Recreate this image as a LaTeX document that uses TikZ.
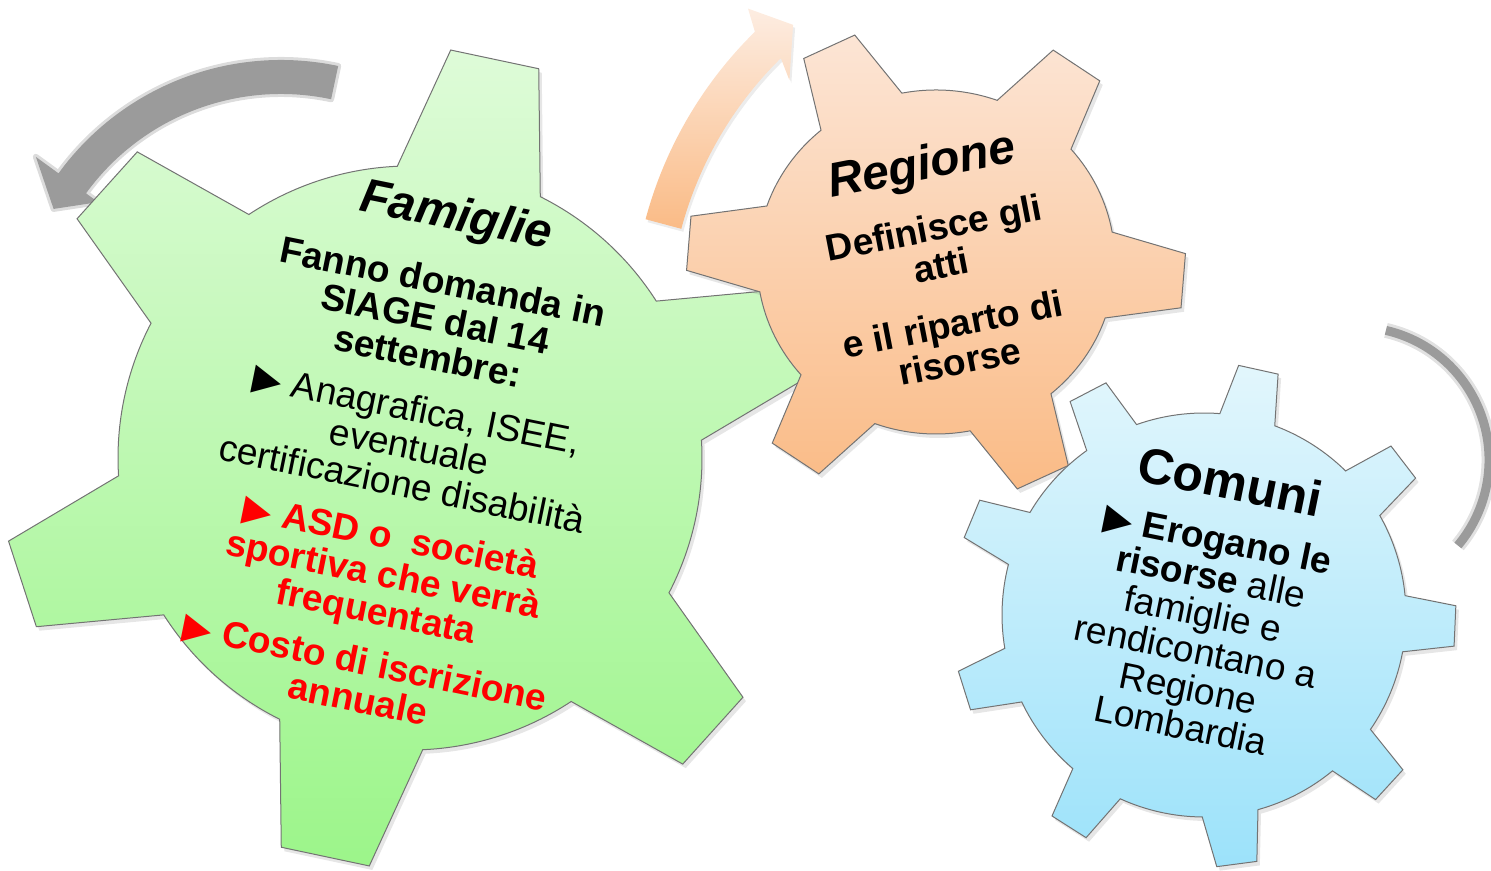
\documentclass[tikz,border=0pt]{standalone}
\usepackage{fontspec}
\setmainfont{Liberation Sans}
\newfontfamily\symfont{DejaVu Sans}
\usetikzlibrary{shadows}
\definecolor{famtop}{RGB}{222,251,216}
\definecolor{fambot}{RGB}{156,245,138}
\definecolor{regtop}{RGB}{252,229,213}
\definecolor{regbot}{RGB}{250,187,134}
\definecolor{comtop}{RGB}{226,246,252}
\definecolor{combot}{RGB}{156,226,250}
\definecolor{arrowgray}{RGB}{155,155,155}
\definecolor{famred}{RGB}{255,0,0}
\newcommand{\tri}{{\symfont ▶}}
% style, teeth, offset, body radius, tip radius, half base angle, half tip angle
\newcommand{\gear}[7]{\path[#1] (#3-#6:#4) \foreach \k [evaluate=\k as \ang using #3+(\k-1)*360/#2] in {1,...,#2} {
  -- (\ang-#6:#4) -- (\ang-#7:#5) -- (\ang+#7:#5) -- (\ang+#6:#4)
  arc[start angle=\ang+#6, end angle=\ang+360/#2-#6, radius=#4]} -- cycle;}

\begin{document}
\begin{tikzpicture}[x=0.5pt, y=0.5pt,
  gearline/.style={draw=black!55, line width=0.5pt, drop shadow={opacity=.2, shadow xshift=1.5pt, shadow yshift=-2pt}},
  famgear/.style={gearline, top color=famtop, bottom color=fambot},
  reggear/.style={gearline, top color=regtop, bottom color=regbot},
  comgear/.style={gearline, top color=comtop, bottom color=combot},
  greyarrow/.style={fill=arrowgray, draw=arrowgray, draw opacity=.35, line width=3pt, line join=round},
  regarrow/.style={top color=regtop!70!white, bottom color=regbot, drop shadow={opacity=.15, shadow xshift=1pt, shadow yshift=-1.5pt}},
  greyline/.style={draw=arrowgray, line width=4.5pt, preaction={draw=arrowgray, draw opacity=.3, line width=7.5pt}},
  geartext/.style={align=center, font=\fontsize{18.6}{19}\selectfont\bfseries, inner sep=0pt}]
  \useasboundingbox (0,0) rectangle (1491,871);

  % arrows round the gears
  \begin{scope}[shift={(281,536)}]
    \path[greyarrow] (78:275) arc[start angle=78, end angle=144, radius=275] -- (144:303) -- (151:260)
      -- (144:226) -- (144:241) arc[start angle=144, end angle=78, radius=241] -- cycle;
  \end{scope}
  \begin{scope}[shift={(1044,545)}]
    \path[regarrow] (165:412.5) arc[start angle=165, end angle=134.5, radius=412.5] -- (133:434) -- (129.8:392)
      -- (136:354) -- (134.5:375.5) arc[start angle=134.5, end angle=165, radius=375.5] -- cycle;
  \end{scope}
  \begin{scope}[shift={(1356,411)}]
    \path[greyline] (77:133) arc[start angle=77, end angle=-40, radius=133];
  \end{scope}

  % Famiglie
  \begin{scope}[shift={(410,413)}]
    \gear{famgear}{6}{18}{292}{410}{14.5}{6.3}
    \node[geartext, rotate=-11.5] (famtext) at (-2,4) {%
      {\fontsize{24}{26}\selectfont\itshape Famiglie}\\[14pt]
      Fanno domanda in\\
      SIAGE dal 14\\
      settembre:\\[8pt]
      {\mdseries\tri{} Anagrafica, ISEE,}\\
      {\mdseries eventuale}\\
      {\mdseries certificazione disabilità}\\[8pt]
      {\color{famred}\tri{} ASD o\ \ società}\\
      {\color{famred}sportiva che verrà}\\
      {\color{famred}frequentata}\\[7pt]
      {\color{famred}\tri{} Costo di iscrizione}\\
      {\color{famred}annuale}};
  \end{scope}

  % Regione
  \begin{scope}[shift={(936,609)}]
    \begin{scope}[xscale=1.04]
      \gear{reggear}{6}{-4.5}{172}{240}{14.5}{6.5}
    \end{scope}
    \node[geartext, rotate=11] (regtext) at (4,2) {%
      {\fontsize{24}{26}\selectfont\itshape Regione}\\[12pt]
      Definisce gli\\
      atti\\[11pt]
      e il riparto di\\
      risorse};
  \end{scope}

  % Comuni
  \begin{scope}[shift={(1204,256)}]
    \gear{comgear}{9}{37.5}{202}{252}{8}{4.6}
    \node[geartext, rotate=-11.5] (comtext) at (2,14) {%
      {\fontsize{25}{27}\selectfont Comuni}\\[8pt]
      \tri{} Erogano le\\
      risorse {\mdseries alle}\\
      {\mdseries famiglie e}\\
      {\mdseries rendicontano a}\\
      {\mdseries Regione}\\
      {\mdseries Lombardia}};
  \end{scope}
\end{tikzpicture}
\end{document}
